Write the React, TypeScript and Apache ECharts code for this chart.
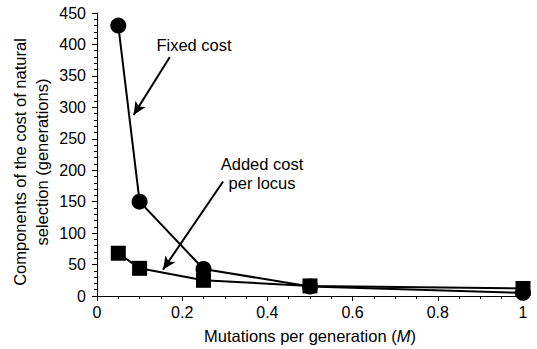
import React, { useEffect, useRef } from "react";
import * as echarts from "echarts";

const mutationRates = [0.05, 0.1, 0.25, 0.5, 1];
const fixedCost = [430, 150, 43, 15, 5];
const addedCostPerLocus = [68, 44, 25, 16, 12];
const xTicks = { min: 0, max: 1, interval: 0.2 };
const yTicks = { min: 0, max: 450, interval: 50 };
const fixedArrow = [[0.171, 380], [0.086, 288]];
const addedArrow = [[0.296, 182], [0.155, 42]];

const FONT = "'Liberation Sans', Arial, Helvetica, sans-serif";

export default function App() {
  const ref = useRef<HTMLDivElement>(null);
  useEffect(() => {
    if (!ref.current) return;
    const chart = echarts.init(ref.current, undefined, { renderer: "svg" });
    const axisCommon = {
      axisLine: { show: true, lineStyle: { color: "#000", width: 1 } },
      axisTick: { show: true, length: 5, lineStyle: { color: "#000", width: 1 } },
      minorTick: { show: true, length: 3, lineStyle: { color: "#000", width: 1 } },
      splitLine: { show: false },
      minorSplitLine: { show: false },
      axisLabel: { color: "#000", fontSize: 16, fontFamily: FONT },
    };
    const arrowLine = (pts: number[][]) => ({
      silent: true,
      symbol: ["none", "arrow"],
      symbolSize: [9, 13],
      label: { show: false },
      lineStyle: { color: "#000", width: 2, type: "solid" },
      data: [[{ coord: pts[0] }, { coord: pts[1] }]],
    });
    chart.setOption({
      animation: false,
      backgroundColor: "#fff",
      grid: { left: 97, right: 14, top: 13, bottom: 52, containLabel: false },
      xAxis: {
        type: "value",
        min: xTicks.min,
        max: xTicks.max,
        interval: xTicks.interval,
        ...axisCommon,
        minorTick: { ...axisCommon.minorTick, splitNumber: 4 },
        axisLabel: { ...axisCommon.axisLabel, margin: 8 },
        name: "Mutations per generation ({i|M})",
        nameLocation: "middle",
        nameGap: 31,
        nameTextStyle: {
          color: "#000",
          fontSize: 16.5,
          fontFamily: FONT,
          rich: { i: { fontStyle: "italic", fontSize: 16.5, fontFamily: FONT, color: "#000" } },
        },
      },
      yAxis: {
        type: "value",
        min: yTicks.min,
        max: yTicks.max,
        interval: yTicks.interval,
        ...axisCommon,
        minorTick: { ...axisCommon.minorTick, splitNumber: 5 },
        axisLabel: { ...axisCommon.axisLabel, margin: 11 },
      },
      graphic: [
        {
          type: "text",
          x: 31,
          y: 162,
          rotation: Math.PI / 2,
          style: {
            text: "Components of the cost of natural\nselection (generations)",
            fill: "#000",
            font: `16.5px ${FONT}`,
            lineHeight: 22,
            textAlign: "center",
            textVerticalAlign: "middle",
          },
        },
        {
          type: "text",
          x: 194,
          y: 45,
          style: {
            text: "Fixed cost",
            fill: "#000",
            font: `16.5px ${FONT}`,
            textAlign: "center",
            textVerticalAlign: "middle",
          },
        },
        {
          type: "text",
          x: 262,
          y: 173.5,
          style: {
            text: "Added cost\nper locus",
            fill: "#000",
            font: `16.5px ${FONT}`,
            lineHeight: 19.5,
            textAlign: "center",
            textVerticalAlign: "middle",
          },
        },
      ],
      series: [
        {
          name: "Fixed cost",
          type: "line",
          data: mutationRates.map((m, i) => [m, fixedCost[i]]),
          symbol: "circle",
          symbolSize: 16,
          itemStyle: { color: "#000" },
          lineStyle: { color: "#000", width: 2 },
          z: 2,
          markLine: arrowLine(fixedArrow),
        },
        {
          name: "Added cost per locus",
          type: "line",
          data: mutationRates.map((m, i) => [m, addedCostPerLocus[i]]),
          symbol: "rect",
          symbolSize: 15,
          itemStyle: { color: "#000" },
          lineStyle: { color: "#000", width: 2 },
          z: 3,
          markLine: arrowLine(addedArrow),
        },
      ],
    });
    return () => chart.dispose();
  }, []);
  return <div ref={ref} style={{ width: 537, height: 349, position: "absolute", left: 0, top: 0 }} />;
}
